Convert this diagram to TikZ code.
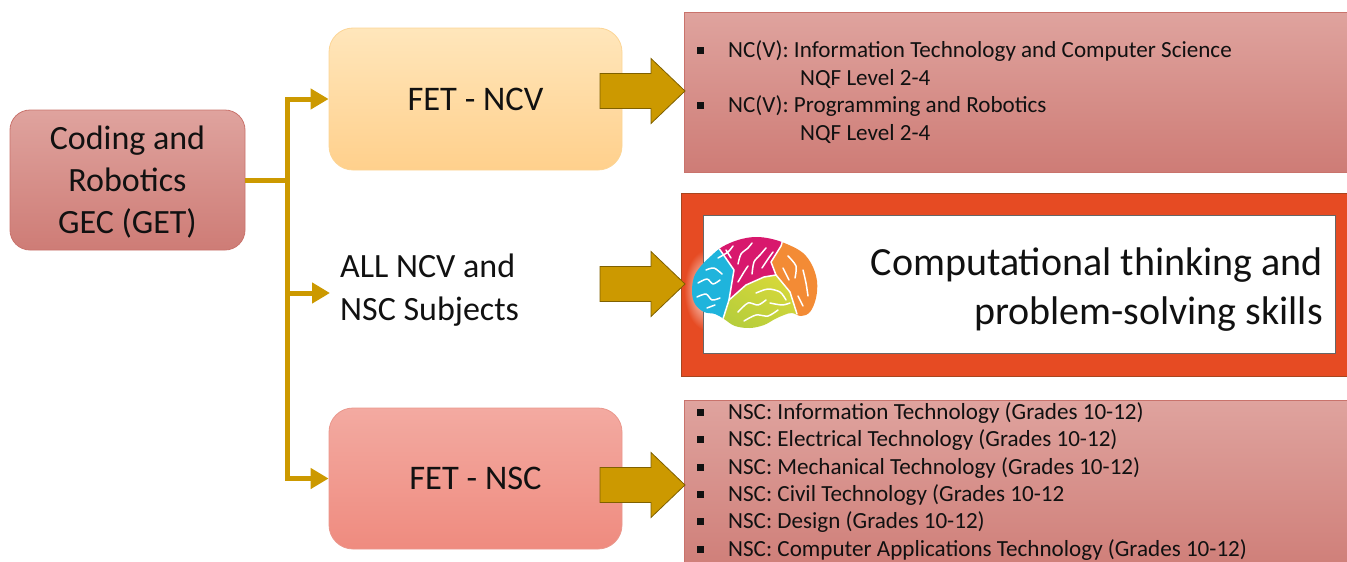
\documentclass[tikz,border=0pt]{standalone}
\usepackage{fontspec}
\setmainfont{Carlito}
\usetikzlibrary{arrows.meta}

\definecolor{gold}{HTML}{CC9900}
\definecolor{golddark}{HTML}{7F6000}
\definecolor{roseTop}{HTML}{DFA39E}
\definecolor{roseBot}{HTML}{CE7C76}
\definecolor{roseEdge}{HTML}{C9736C}
\definecolor{sandTop}{HTML}{FFE6BB}
\definecolor{sandBot}{HTML}{FFD08C}
\definecolor{sandEdge}{HTML}{FCD595}
\definecolor{salmonTop}{HTML}{F3AAA1}
\definecolor{salmonBot}{HTML}{EF8B7F}
\definecolor{salmonEdge}{HTML}{EA978C}
\definecolor{flame}{HTML}{E64B23}
\definecolor{flameEdge}{HTML}{A8451F}
\definecolor{brainCyan}{HTML}{1FB4DC}
\definecolor{brainPink}{HTML}{D8186D}
\definecolor{brainOrange}{HTML}{F38B35}
\definecolor{brainLime}{HTML}{B2CC3C}
\definecolor{brainYellow}{HTML}{D6D83A}
\definecolor{ink}{HTML}{111111}

% square list bullet followed by the text indent
\newcommand\sqbullet{\makebox[31pt][l]{\rule[3.5pt]{6.6pt}{6.6pt}}}

\tikzset{
  roundbox/.style={rounded corners=20pt, line width=0.8pt, inner sep=0pt,
    align=center, text=ink, font=\fontsize{34.5}{42}\selectfont},
  listbox/.style={rectangle, line width=0.8pt, inner sep=0pt,
    top color=roseTop, bottom color=roseBot, draw=roseEdge},
  listline/.style={anchor=base west, inner sep=0pt, text=ink,
    font=\fontsize{23.1}{27}\selectfont},
  conn/.style={draw=gold, line width=5pt},
  connarrow/.style={conn, -{Triangle[length=18pt,width=20pt]}},
  blockarrow/.style={fill=gold, draw=golddark, line width=0.8pt, line join=miter},
  gyrus/.style={draw=white, line width=1.5pt, line cap=round, line join=round},
  pics/fatarrow/.style={code={
    \draw[blockarrow] (0,-17.5) -- (51,-17.5) -- (51,-32.5) -- (85,0)
      -- (51,32.5) -- (51,17.5) -- (0,17.5) -- cycle;}},
}

\begin{document}
\begin{tikzpicture}[x=1pt, y=-1pt]
\useasboundingbox (0,0) rectangle (1347,562);

% ---------- left source box ----------
\node[roundbox, minimum width=235pt, minimum height=140pt,
      top color=roseTop, bottom color=roseBot, draw=roseEdge]
  (get) at (127.5,180) {};
\node[align=center, inner sep=0pt, text=ink, font=\fontsize{34}{42}\selectfont]
  (gettext) at (127.5,182) {Coding and\\Robotics\\GEC (GET)};

% ---------- FET boxes ----------
\node[roundbox, rounded corners=24pt, minimum width=293pt, minimum height=142pt,
      top color=sandTop, bottom color=sandBot, draw=sandEdge]
  (ncv) at (475.5,99) {FET - NCV};
\node[roundbox, rounded corners=24pt, minimum width=293pt, minimum height=141pt,
      top color=salmonTop, bottom color=salmonBot, draw=salmonEdge]
  (nsc) at (475.5,478.5) {FET - NSC};

\node[anchor=west, align=left, inner xsep=10pt, inner ysep=0pt, text=ink,
      font=\fontsize{34}{42.5}\selectfont]
  (all) at (330,290) {ALL NCV and\\NSC Subjects};

% ---------- branching connector ----------
\coordinate (fork) at (287,180);
\draw[conn] (get.east) -- (fork);
\draw[connarrow] (fork) |- (ncv.west);
\draw[connarrow] (fork) |- ([yshift=-3pt]all.west);
\draw[connarrow] (fork) |- (nsc.west);

% ---------- NC(V) list ----------
\node[listbox, minimum width=663pt, minimum height=160pt] (ncvlist) at (1015.5,92) {};
\node[listline] (l1) at (697,57) {\sqbullet NC(V): Information Technology and Computer Science};
\node[listline] (l2) at (800,85) {NQF Level 2-4};
\node[listline] (l3) at (697,112) {\sqbullet NC(V): Programming and Robotics};
\node[listline] (l4) at (800,140) {NQF Level 2-4};

% ---------- NSC list ----------
\node[listbox, minimum width=663pt, minimum height=180pt] (nsclist) at (1015.5,490) {};
\node[listline] (s1) at (697,419) {\sqbullet NSC: Information Technology (Grades 10-12)};
\node[listline] (s2) at (697,446.5) {\sqbullet NSC: Electrical Technology (Grades 10-12)};
\node[listline] (s3) at (697,474) {\sqbullet NSC: Mechanical Technology (Grades 10-12)};
\node[listline] (s4) at (697,501) {\sqbullet NSC: Civil Technology (Grades 10-12};
\node[listline] (s5) at (697,528.5) {\sqbullet NSC: Design (Grades 10-12)};
\node[listline] (s6) at (697,556) {\sqbullet NSC: Computer Applications Technology (Grades 10-12)};

% ---------- skills frame ----------
\node[rectangle, fill=flame, draw=flameEdge, line width=0.8pt, inner sep=0pt,
      minimum width=666pt, minimum height=183pt] (skills) at (1014,284.5) {};
% soft glow on the frame behind the brain
\begin{scope}
  \clip (681.5,194) rectangle (703,375);
  \shade[inner color=white, outer color=flame] (706,290) ellipse (22pt and 40pt);
\end{scope}
\node[rectangle, fill=white, draw=black!60, line width=0.7pt, inner sep=0pt,
      minimum width=632pt, minimum height=138pt] (inner) at (1019,284) {};
\node[anchor=east, align=right, inner sep=0pt, text=ink,
      font=\fontsize{40}{49}\selectfont]
  (ct) at (1323,290) {Computational thinking and\\problem-solving skills};

% ---------- block arrows ----------
\pic at (600,91) {fatarrow};
\pic at (600,284) {fatarrow};
\pic at (600,485) {fatarrow};

% ---------- brain ----------
\coordinate (bA) at (716,244);
\coordinate (bB) at (734,270);
\coordinate (bC) at (731,288);
\coordinate (bD) at (729,300);
\coordinate (bE) at (722,322);
\coordinate (bF) at (746,285);
\coordinate (bG) at (764,277);
\coordinate (bH) at (776,275);
\coordinate (bI) at (771,262);
\coordinate (bJ) at (781,246);
\coordinate (bK) at (790,292);
\coordinate (bL) at (797,314);
\begin{scope}
  \clip plot[smooth cycle, tension=0.6] coordinates
    {(692,292) (694,277) (701,266) (711,256) (722,247) (738,240) (755,237)
     (772,239) (789,245) (803,253) (812,265) (817,281) (816,298) (810,312)
     (801,316) (792,313) (784,315) (775,319) (764,325) (750,328) (735,326)
     (724,319) (715,314) (704,312) (695,304)};
  \fill[brainCyan] (660,230) -- (714,230) -- (bA) -- (bB) -- (bC) -- (bD)
    -- (bE) -- (718,340) -- (660,340) -- cycle;
  \fill[brainPink] (714,230) -- (786,230) -- (bJ) -- (bI) -- (bH) -- (bG)
    -- (bF) -- (bD) -- (bC) -- (bB) -- (bA) -- cycle;
  \fill[brainOrange] (786,230) -- (840,230) -- (840,340) -- (800,340)
    -- (bL) -- (bK) -- (bH) -- (bI) -- (bJ) -- cycle;
  \shade[top color=brainYellow, bottom color=brainLime, shading angle=-30]
    (bD) -- (bF) -- (bG) -- (bH) -- (bK) -- (bL) -- (800,340) -- (718,340)
    -- (bE) -- cycle;
  % lobe boundaries
  \draw[gyrus] (714,230) -- (bA) -- (bB) -- (bC) -- (bD) -- (bE);
  \draw[gyrus] (bD) -- (bF) -- (bG) -- (bH) -- (bK) -- (bL);
  \draw[gyrus] (bH) -- (bI) -- (bJ) -- (786,230);
\end{scope}
% folds
\draw[gyrus] plot[smooth] coordinates {(698,283) (707,279) (713,284) (720,280)};
\draw[gyrus] plot[smooth] coordinates {(697,297) (706,294) (712,300) (720,298)};
\draw[gyrus] plot[smooth] coordinates {(706,270) (714,268) (722,274)};
\draw[gyrus] plot[smooth] coordinates {(707,308) (715,305)};
\draw[gyrus] plot[smooth] coordinates {(718,258) (728,252) (733,246)};
\draw[gyrus] plot[smooth] coordinates {(738,264) (741,254) (748,248) (752,243)};
\draw[gyrus] plot[smooth] coordinates {(752,274) (754,262) (760,255) (766,248)};
\draw[gyrus] plot[smooth] coordinates {(762,268) (768,259) (773,252)};
\draw[gyrus] plot[smooth] coordinates {(738,282) (744,272) (748,266)};
\draw[gyrus] plot[smooth] coordinates {(726,250) (731,258)};
\draw[gyrus] plot[smooth] coordinates {(788,256) (796,266) (795,278)};
\draw[gyrus] plot[smooth] coordinates {(803,270) (806,283) (808,296)};
\draw[gyrus] plot[smooth] coordinates {(783,268) (789,280)};
\draw[gyrus] plot[smooth] coordinates {(798,296) (803,306)};
\draw[gyrus] plot[smooth] coordinates {(738,312) (748,303) (758,305) (766,300)};
\draw[gyrus] plot[smooth] coordinates {(756,293) (768,289) (780,292) (786,300)};
\draw[gyrus] plot[smooth] coordinates {(744,321) (756,315) (768,316) (778,310)};
\draw[gyrus] plot[smooth] coordinates {(770,303) (782,305) (790,303)};
\end{tikzpicture}
\end{document}
